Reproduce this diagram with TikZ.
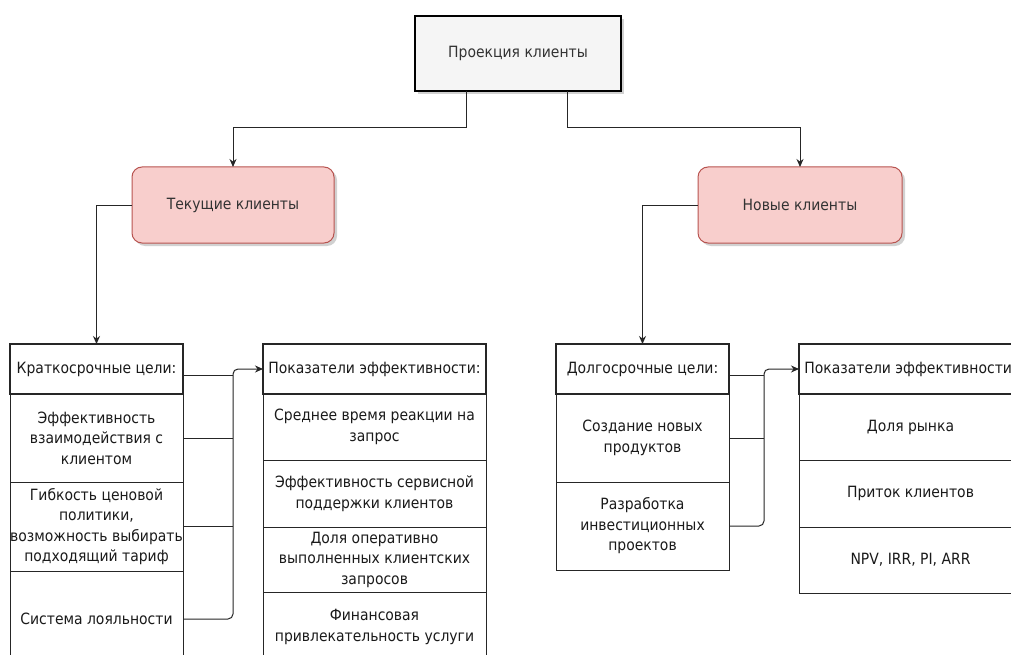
\documentclass[tikz,border=0pt]{standalone}
\usepackage{fontspec}
\setmainfont{DejaVu Sans}[FakeStretch=0.9]
\usetikzlibrary{arrows.meta,shadows}
\definecolor{topfill}{HTML}{F5F5F5}
\definecolor{pinkfill}{HTML}{F8CECC}
\definecolor{pinkdraw}{HTML}{B85450}
\definecolor{txtgray}{HTML}{333333}
\definecolor{txtdark}{HTML}{1A1A1A}
\tikzset{
  every node/.style={font=\fontsize{15.5}{20.5}\selectfont, align=center, inner sep=0pt, outer sep=0pt},
  shad/.style={drop shadow={shadow xshift=3pt, shadow yshift=-3pt, fill=black!40, opacity=0.45}},
  topbox/.style={draw=black, line width=1.2pt, fill=topfill, text=txtgray, shad},
  pinkbox/.style={draw=pinkdraw, line width=1pt, fill=pinkfill, text=txtgray, rounded corners=10pt, shad},
  headbox/.style={draw=black!85, line width=2pt, fill=white, text=txtdark},
  itembox/.style={draw=black!85, line width=1pt, fill=white, text=txtdark},
  conn/.style={draw=black!85, line width=1pt, -{Stealth[length=8pt,width=7pt]}},
  link/.style={draw=black!85, line width=1pt},
}
\begin{document}
\begin{tikzpicture}[x=1pt,y=-1pt]
\useasboundingbox (0,0) rectangle (1011,655);
\clip (0,0) rectangle (1011,655);
\fill[white] (0,0) rectangle (1011,655);

% top level
\node[topbox, minimum width=206pt, minimum height=75pt] (top) at (518,53.5) {Проекция клиенты};
\node[pinkbox, minimum width=202pt, minimum height=76pt] (tek) at (233,205) {Текущие клиенты};
\node[pinkbox, minimum width=204pt, minimum height=76pt] (nov) at (800,205) {Новые клиенты};

% list 1
\node[itembox, minimum width=173pt, minimum height=88pt] (a1) at (96.5,438) {Эффективность\\взаимодействия с\\клиентом};
\node[itembox, minimum width=173pt, minimum height=89pt] (a2) at (96.5,526.5) {Гибкость ценовой\\политики,\\возможность выбирать\\подходящий тариф};
\node[itembox, minimum width=173pt, minimum height=96pt] (a3) at (96.5,619) {Система лояльности};
\node[headbox, minimum width=173pt, minimum height=50pt] (h1) at (96.5,369) {Краткосрочные цели:};

% list 2
\node[itembox, minimum width=223pt, minimum height=66pt] (b1) at (374.5,427) {Среднее время реакции на\\запрос};
\node[itembox, minimum width=223pt, minimum height=67pt] (b2) at (374.5,493.5) {Эффективность сервисной\\поддержки клиентов};
\node[itembox, minimum width=223pt, minimum height=65pt] (b3) at (374.5,559.5) {Доля оперативно\\выполненных клиентских\\запросов};
\node[itembox, minimum width=223pt, minimum height=70pt] (b4) at (374.5,627) {Финансовая\\привлекательность услуги};
\node[headbox, minimum width=223pt, minimum height=50pt] (h2) at (374.5,369) {Показатели эффективности:};

% list 3
\node[itembox, minimum width=173pt, minimum height=88pt] (c1) at (642.5,438) {Создание новых\\продуктов};
\node[itembox, minimum width=173pt, minimum height=88pt] (c2) at (642.5,526) {Разработка\\инвестиционных\\проектов};
\node[headbox, minimum width=173pt, minimum height=50pt] (h3) at (642.5,369) {Долгосрочные цели:};

% list 4
\node[itembox, minimum width=223pt, minimum height=66pt] (d1) at (910.5,427) {Доля рынка};
\node[itembox, minimum width=223pt, minimum height=67pt] (d2) at (910.5,493.5) {Приток клиентов};
\node[itembox, minimum width=223pt, minimum height=66pt] (d3) at (910.5,560) {NPV, IRR, PI, ARR};
\node[headbox, minimum width=223pt, minimum height=50pt] (h4) at (910.5,369) {Показатели эффективности:};

% bend points
\coordinate (j1) at (466,128);
\coordinate (j2) at (567,128);
\coordinate (bus1) at (233,369);
\coordinate (bus2) at (764,369);

% connectors from top
\draw[conn] (top.south -| j1) -- (j1) -| (tek.north);
\draw[conn] (top.south -| j2) -- (j2) -| (nov.north);
\draw[conn] (tek.west) -| (h1.north);
\draw[conn] (nov.west) -| (h3.north);

% list 1 -> list 2
\draw[link] ([yshift=-6pt]h1.east) -- ([yshift=-6pt]h1.east -| bus1);
\draw[link] (a1.east) -- (a1.east -| bus1);
\draw[link] (a2.east) -- (a2.east -| bus1);
\draw[conn, rounded corners=5pt] (a3.east) -| (bus1) -- (h2.west);

% list 3 -> list 4
\draw[link] ([yshift=-6pt]h3.east) -- ([yshift=-6pt]h3.east -| bus2);
\draw[link] (c1.east) -- (c1.east -| bus2);
\draw[conn, rounded corners=5pt] (c2.east) -| (bus2) -- (h4.west);
\end{tikzpicture}
\end{document}
